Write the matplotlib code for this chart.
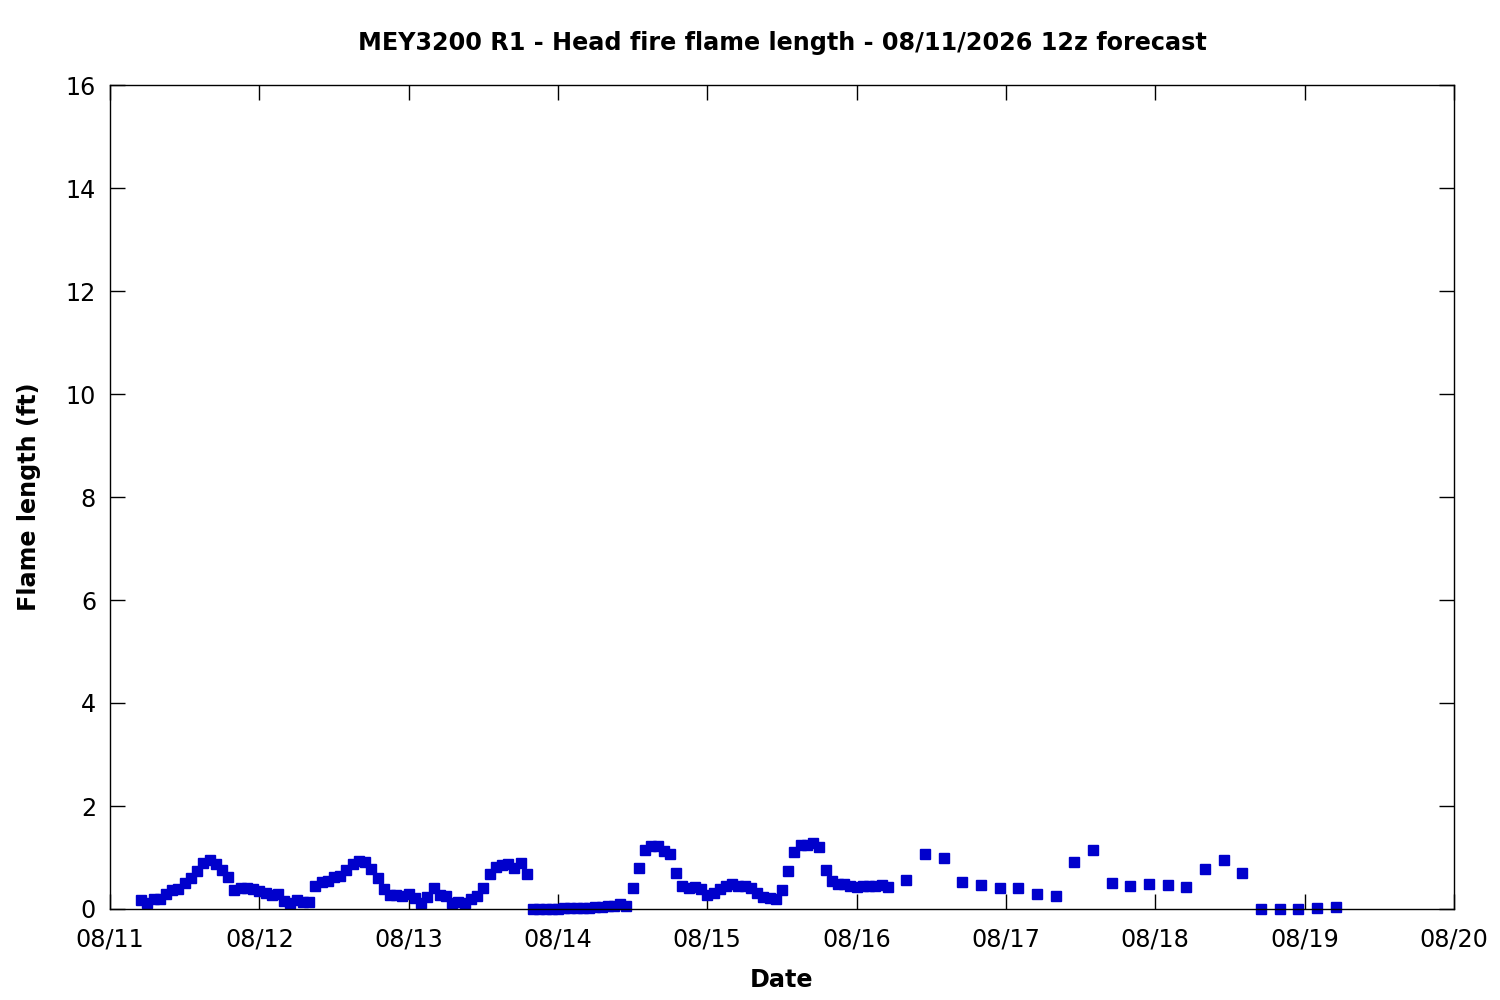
import matplotlib
matplotlib.use('Agg')
import matplotlib.pyplot as plt
import matplotlib.dates as mdates
import datetime as dt

plt.rcParams['font.family'] = 'DejaVu Sans'

# forecast start and hour offsets of each point
t0 = dt.datetime(2026, 8, 11, 0)
hours_hourly = list(range(5, 126))
hours_3h = list(range(128, 198, 3))

flame_hourly = [
    0.17, 0.11, 0.19, 0.19, 0.29, 0.375, 0.39, 0.505, 0.6, 0.74,
    0.89, 0.95, 0.88, 0.76, 0.615, 0.36, 0.40, 0.40, 0.38, 0.355,
    0.31, 0.28, 0.29, 0.16, 0.11, 0.17, 0.14, 0.14, 0.44, 0.53,
    0.54, 0.615, 0.635, 0.76, 0.88, 0.94, 0.91, 0.78, 0.6, 0.39,
    0.28, 0.28, 0.26, 0.29, 0.21, 0.11, 0.23, 0.40, 0.28, 0.25,
    0.12, 0.14, 0.12, 0.19, 0.26, 0.40, 0.67, 0.815, 0.845, 0.88,
    0.79, 0.89, 0.68,
    0.0, 0.0, 0.0, 0.0, 0.0, 0.01, 0.02, 0.02, 0.02, 0.02,
    0.03, 0.04, 0.05, 0.06, 0.10, 0.06, 0.40, 0.79, 1.14, 1.22,
    1.22, 1.13, 1.06, 0.69, 0.44, 0.40, 0.43, 0.38, 0.28, 0.31,
    0.39, 0.45, 0.48, 0.45, 0.45, 0.40, 0.31, 0.23, 0.21, 0.19,
    0.36, 0.73, 1.10, 1.24, 1.24, 1.28, 1.20, 0.75, 0.54, 0.48,
    0.48, 0.44, 0.42, 0.44, 0.44, 0.44, 0.46, 0.42,
]
flame_3h = [
    0.56, 1.06, 1.00, 0.52, 0.46, 0.40, 0.40, 0.30, 0.25, 0.91,
    1.14, 0.50, 0.44, 0.48, 0.46, 0.42, 0.77, 0.95, 0.69, 0.0,
    0.0, 0.0, 0.02, 0.04,
]

hours = hours_hourly + hours_3h
flame = flame_hourly + flame_3h
times = [t0 + dt.timedelta(hours=h) for h in hours]

fig = plt.figure(figsize=(15, 10), dpi=100)
ax = fig.add_axes([0.0733, 0.091, 0.896, 0.824])

ax.plot(times, flame, linestyle='', marker='s', markersize=6.5,
        color='#0000cc', clip_on=False)

ax.set_xlim(dt.datetime(2026, 8, 11), dt.datetime(2026, 8, 20))
ax.set_ylim(0, 16)
ax.set_yticks(range(0, 17, 2))
ax.xaxis.set_major_locator(mdates.DayLocator())
ax.xaxis.set_major_formatter(mdates.DateFormatter('%m/%d'))

ax.tick_params(direction='in', length=11, width=1, top=True, right=True,
               labelsize=17.2)
ax.tick_params(axis='x', pad=13)
ax.tick_params(axis='y', pad=10)
for sp in ax.spines.values():
    sp.set_linewidth(1.0)

ax.set_title('MEY3200 R1 - Head fire flame length - 08/11/2026 12z forecast',
             fontsize=17.2, fontweight='bold', pad=25)
ax.set_xlabel('Date', fontsize=17.2, fontweight='bold', labelpad=12)
ax.set_ylabel('Flame length (ft)', fontsize=17.2, fontweight='bold', labelpad=18)

fig.savefig('out.png', dpi=100)
